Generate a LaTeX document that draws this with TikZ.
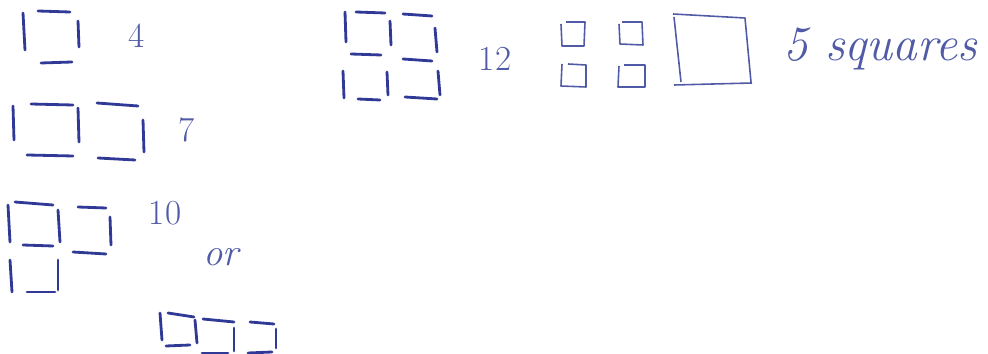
\documentclass[tikz,border=0pt]{standalone}
\usepackage{tikz}

\definecolor{ink}{RGB}{48,58,150}
\definecolor{inklight}{RGB}{80,90,165}

\begin{document}
\begin{tikzpicture}[
      x=0.02cm, y=-0.02cm,
      stick/.style={draw=ink, line width=1.6pt, line cap=round},
      outline/.style={draw=inklight, line width=0.9pt, line join=round},
      count/.style={text=inklight, inner sep=0pt, font=\fontsize{20}{24}\selectfont},
      word/.style={text=inklight, inner sep=0pt, font=\itshape\fontsize{28}{32}\selectfont}
    ]
      \useasboundingbox (0,0) rectangle (988,354);

      % one square
      \draw[stick] (23,13) -- (25,50);
      \draw[stick] (38,11) -- (70,12);
      \draw[stick] (78,21) -- (79,47);
      \draw[stick] (41,63) -- (72,62);
      \node[count] (four) at (137,36) {4};

      % two squares in a row
      \draw[stick] (13,106) -- (14,140);
      \draw[stick] (31,104) -- (73,105);
      \draw[stick] (78,108) -- (79,142);
      \draw[stick] (97,103) -- (138,106);
      \draw[stick] (143,120) -- (144,152);
      \draw[stick] (27,155) -- (73,156);
      \draw[stick] (98,158) -- (135,160);
      \node[count] (seven) at (187,130) {7};

      % three squares, L shape
      \draw[stick] (8,205) -- (10,242);
      \draw[stick] (15,202) -- (53,205);
      \draw[stick] (58,210) -- (60,242);
      \draw[stick] (23,245) -- (53,246);
      \draw[stick] (78,207) -- (106,208);
      \draw[stick] (110,217) -- (111,245);
      \draw[stick] (73,252) -- (106,254);
      \draw[stick] (10,260) -- (12,292);
      \draw[stick] (58,260) -- (58,290);
      \draw[stick] (27,292) -- (55,292);
      \node[count] (ten) at (165,213) {10};
      \node[word, font=\itshape\fontsize{22}{26}\selectfont] (alt) at (221,257) {or};

      % three squares in a row
      \draw[stick] (160,313) -- (162,340);
      \draw[stick] (168,313) -- (194,317);
      \draw[stick] (195,320) -- (197,343);
      \draw[stick] (203,319) -- (234,322);
      \draw[stick] (234,328) -- (234,351);
      \draw[stick] (250,322) -- (274,324);
      \draw[stick] (276,329) -- (276,348);
      \draw[stick] (166,346) -- (190,345);
      \draw[stick] (202,353) -- (228,353);
      \draw[stick] (248,353) -- (272,352);

      % four squares
      \draw[stick] (345,12) -- (346,42);
      \draw[stick] (356,12) -- (385,13);
      \draw[stick] (390,21) -- (391,45);
      \draw[stick] (403,14) -- (432,16);
      \draw[stick] (435,28) -- (437,52);
      \draw[stick] (351,54) -- (381,55);
      \draw[stick] (403,59) -- (432,61);
      \draw[stick] (343,71) -- (344,98);
      \draw[stick] (387,72) -- (388,95);
      \draw[stick] (438,71) -- (440,95);
      \draw[stick] (358,99) -- (380,100);
      \draw[stick] (405,97) -- (437,99);
      \node[count] (twelve) at (495,59) {12};

      % five squares
      \draw[outline] (561,24) -- (562,46) -- (584,46) -- (585,22) -- (566,22);
      \draw[outline] (619,24) -- (620,44) -- (643,45) -- (642,22) -- (622,22);
      \draw[outline] (562,64) -- (561,86) -- (586,87) -- (586,65) -- (568,64);
      \draw[outline] (619,66) -- (618,87) -- (645,87) -- (645,65) -- (624,65);
      \draw[outline] (674,17) -- (681,82);
      \draw[outline] (673,14) -- (745,18) -- (751,82);
      \draw[outline] (674,85) -- (752,83);
      \node[word, anchor=west] (total) at (783,49) {5 squares};
    \end{tikzpicture}
\end{document}
